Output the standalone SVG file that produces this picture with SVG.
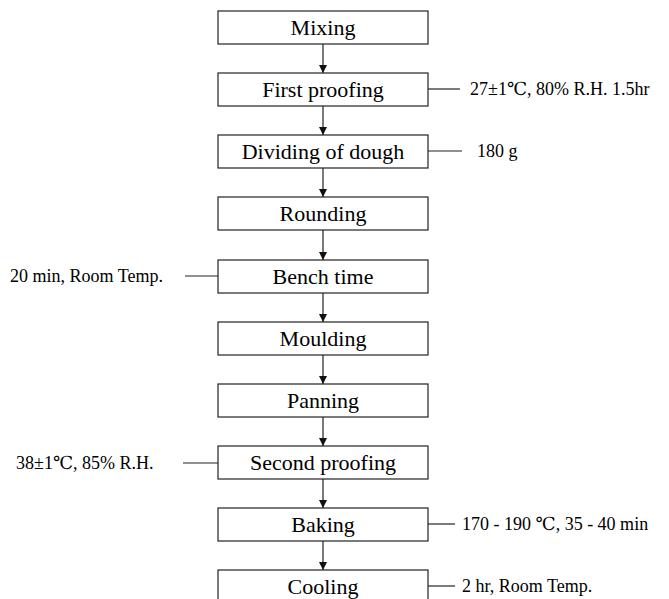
<svg xmlns="http://www.w3.org/2000/svg" width="669" height="599" viewBox="0 0 669 599">
<defs>
<style>
.box{fill:#fff;stroke:#222;stroke-width:1.2}
.bt{font-family:"Liberation Serif","Times New Roman",serif;font-size:22px;fill:#000;text-anchor:middle}
.lb{font-family:"Liberation Serif","Times New Roman","DejaVu Serif",serif;font-size:18px;fill:#000}
.ln{stroke:#222;stroke-width:1.2;fill:none}
</style>
<marker id="ah" viewBox="0 0 10 10" refX="10" refY="5" markerWidth="8" markerHeight="9" markerUnits="userSpaceOnUse" orient="auto">
<path d="M0,0 L10,5 L0,10 Z" fill="#111"/>
</marker>
</defs>
<rect width="669" height="599" fill="#fff"/>
<g id="connectors">
<line class="ln" x1="323" y1="44" x2="323" y2="73" marker-end="url(#ah)"/>
<line class="ln" x1="323" y1="106" x2="323" y2="135" marker-end="url(#ah)"/>
<line class="ln" x1="323" y1="168" x2="323" y2="197" marker-end="url(#ah)"/>
<line class="ln" x1="323" y1="230" x2="323" y2="260" marker-end="url(#ah)"/>
<line class="ln" x1="323" y1="293" x2="323" y2="322" marker-end="url(#ah)"/>
<line class="ln" x1="323" y1="355" x2="323" y2="384" marker-end="url(#ah)"/>
<line class="ln" x1="323" y1="417" x2="323" y2="446" marker-end="url(#ah)"/>
<line class="ln" x1="323" y1="479" x2="323" y2="508" marker-end="url(#ah)"/>
<line class="ln" x1="323" y1="541" x2="323" y2="570" marker-end="url(#ah)"/>
<line class="ln" x1="428" y1="89" x2="460" y2="89"/>
<line class="ln" x1="428" y1="151" x2="462" y2="151"/>
<line class="ln" x1="185" y1="276" x2="218" y2="276"/>
<line class="ln" x1="183" y1="463" x2="218" y2="463"/>
<line class="ln" x1="428" y1="524" x2="455" y2="524"/>
<line class="ln" x1="428" y1="586" x2="455" y2="586"/>
</g>
<g id="mixing"><rect class="box" x="218" y="11" width="210" height="33"/><text class="bt" x="323" y="35">Mixing</text></g>
<g id="first-proofing"><rect class="box" x="218" y="73" width="210" height="33"/><text class="bt" x="323" y="97">First proofing</text></g>
<g id="dividing"><rect class="box" x="218" y="135" width="210" height="33"/><text class="bt" x="323" y="159">Dividing of dough</text></g>
<g id="rounding"><rect class="box" x="218" y="197" width="210" height="33"/><text class="bt" x="323" y="221">Rounding</text></g>
<g id="bench-time"><rect class="box" x="218" y="260" width="210" height="33"/><text class="bt" x="323" y="284">Bench time</text></g>
<g id="moulding"><rect class="box" x="218" y="322" width="210" height="33"/><text class="bt" x="323" y="346">Moulding</text></g>
<g id="panning"><rect class="box" x="218" y="384" width="210" height="33"/><text class="bt" x="323" y="408">Panning</text></g>
<g id="second-proofing"><rect class="box" x="218" y="446" width="210" height="33"/><text class="bt" x="323" y="470">Second proofing</text></g>
<g id="baking"><rect class="box" x="218" y="508" width="210" height="33"/><text class="bt" x="323" y="532">Baking</text></g>
<g id="cooling"><rect class="box" x="218" y="570" width="210" height="33"/><text class="bt" x="323" y="594">Cooling</text></g>
<g id="labels">
<text class="lb" x="470" y="95">27±1℃, 80% R.H. 1.5hr</text>
<text class="lb" x="477" y="157">180 g</text>
<text class="lb" x="10" y="282">20 min, Room Temp.</text>
<text class="lb" x="16" y="469">38±1℃, 85% R.H.</text>
<text class="lb" x="462" y="530">170 - 190 ℃, 35 - 40 min</text>
<text class="lb" x="462" y="592">2 hr, Room Temp.</text>
</g>
</svg>
